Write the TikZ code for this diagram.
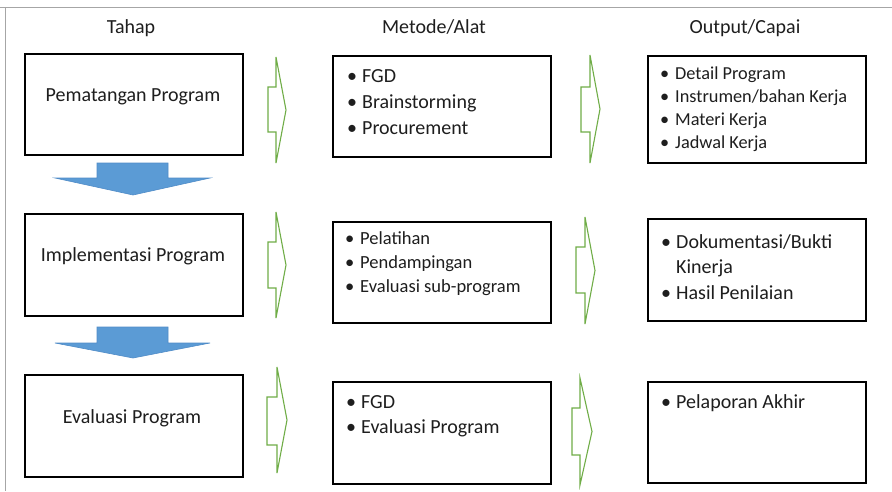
\documentclass[tikz,border=0pt]{standalone}
\usepackage{fontspec}
\setmainfont{Carlito}
\begin{document}
\begin{tikzpicture}[x=1pt,y=-1pt,
  box/.style={draw=black,line width=1.3pt,fill=white},
  garrow/.style={draw={rgb,255:red,112;green,173;blue,71},line width=1.1pt,fill=white,line join=miter},
  barrow/.style={fill={rgb,255:red,91;green,155;blue,213},draw={rgb,255:red,80;green,140;blue,200},line width=0.6pt},
  txt/.style={anchor=mid west,inner sep=0pt,text={rgb,255:red,30;green,30;blue,30}},
  ctxt/.style={anchor=mid,inner sep=0pt,font=\fontsize{20}{24}\selectfont,text={rgb,255:red,30;green,30;blue,30}},
  hdr/.style={anchor=mid,inner sep=0pt,font=\fontsize{20}{24}\selectfont,text={rgb,255:red,30;green,30;blue,30}}]
\useasboundingbox (0,0) rectangle (892,491);
\fill[white] (0,0) rectangle (892,491);
% frame lines
\draw[gray!70,line width=1pt] (0,7) -- (892,7);
\draw[gray!70,line width=1pt] (5,7) -- (5,491);

% headers
\node[hdr] (h1) at (131,31) {Tahap};
\node[hdr] (h2) at (434,31) {Metode/Alat};
\node[hdr] (h3) at (745,31) {Output/Capai};

% column 1 boxes
\draw[box] (25,54) rectangle (243,155);
\draw[box] (25,214) rectangle (243,316);
\draw[box] (25,375) rectangle (243,477);
% column 2 boxes
\draw[box] (333,56) rectangle (551,157);
\draw[box] (333,222) rectangle (551,323);
\draw[box] (333,382) rectangle (551,484);
% column 3 boxes
\draw[box] (648,56) rectangle (866,163);
\draw[box] (648,219) rectangle (866,321);
\draw[box] (648,382) rectangle (866,483);

% column 1 texts
\node[ctxt] (t1) at (133,99) {Pematangan Program};
\node[ctxt] (t2) at (133,259) {Implementasi Program};
\node[ctxt] (t3) at (132,421) {Evaluasi Program};

\newcommand{\bitem}[4]{%
  \node[txt,font=\fontsize{#4}{#4}\selectfont] at (#1-15,#2) {•};
  \node[txt,font=\fontsize{#4}{#4}\selectfont] at (#1,#2) {#3};}

% column 2 lists
\bitem{362}{80}{FGD}{20}
\bitem{362}{106}{Brainstorming}{20}
\bitem{362}{132}{Procurement}{20}

\bitem{360}{242}{Pelatihan}{18.5}
\bitem{360}{266}{Pendampingan}{18.5}
\bitem{360}{290}{Evaluasi sub-program}{18.5}

\bitem{361}{406}{FGD}{20}
\bitem{361}{431}{Evaluasi Program}{20}

% column 3 lists
\bitem{675}{77}{Detail Program}{18.3}
\bitem{675}{100}{Instrumen/bahan Kerja}{18.3}
\bitem{675}{123}{Materi Kerja}{18.3}
\bitem{675}{146}{Jadwal Kerja}{18.3}

\bitem{676}{246}{Dokumentasi/Bukti}{20}
\node[txt,font=\fontsize{20}{20}\selectfont] at (676,271) {Kinerja};
\bitem{676}{297}{Hasil Penilaian}{20}

\bitem{676}{406}{Pelaporan Akhir}{20}

% green arrows
\newcommand{\garr}[7]{%
  \draw[garrow] (#1,#6) -- (#2,#6) -- (#2,#4) -- (#3,{(#4+#5)/2}) -- (#2,#5) -- (#2,#7) -- (#1,#7) -- cycle;}
\garr{268}{276}{286}{57}{163}{87}{132}
\garr{581}{590}{600}{55}{163}{87}{132}
\garr{268}{276}{286}{212}{318}{242}{288}
\garr{576}{585}{595}{217}{324}{247}{293}
\garr{267}{277}{287}{367}{473}{397}{445}
\garr{572}{580}{592}{378}{485}{408}{455}

% blue down arrows
\newcommand{\barr}[3]{%
  \draw[barrow] (97,#1) -- (168,#1) -- (168,#2) -- (210,#2) -- (133,#3) -- (55,#2) -- (97,#2) -- cycle;}
\barr{163}{178}{195}
\barr{327}{343}{358}
\end{tikzpicture}
\end{document}
